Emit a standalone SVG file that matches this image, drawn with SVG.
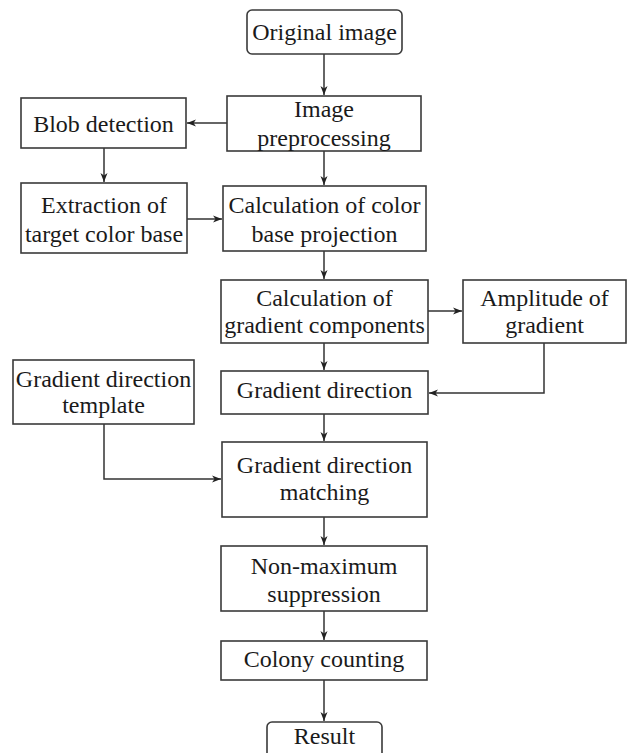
<svg xmlns="http://www.w3.org/2000/svg" width="627" height="753" viewBox="0 0 627 753">
<style>
.box{fill:#fff;stroke:#3a3a3a;stroke-width:1.6}
.t{font-family:"Liberation Serif","Times New Roman",serif;font-size:24px;fill:#1a1a1a;text-anchor:middle}
.c{fill:none;stroke:#333;stroke-width:1.5}
</style>
<defs>
<marker id="ah" markerWidth="10" markerHeight="8" refX="9" refY="4" orient="auto" markerUnits="userSpaceOnUse">
<path d="M0,0.5 L9,4 L0,7.5 L2.5,4 z" fill="#222"/>
</marker>
</defs>
<rect width="627" height="753" fill="#fff"/>
<g id="connectors">
<path class="c" d="M324,54 V95" marker-end="url(#ah)"/>
<path class="c" d="M227,123 H187" marker-end="url(#ah)"/>
<path class="c" d="M104,148 V182" marker-end="url(#ah)"/>
<path class="c" d="M324,151 V185" marker-end="url(#ah)"/>
<path class="c" d="M187,219 H222" marker-end="url(#ah)"/>
<path class="c" d="M324,251 V279" marker-end="url(#ah)"/>
<path class="c" d="M428,311 H462" marker-end="url(#ah)"/>
<path class="c" d="M324,343 V370" marker-end="url(#ah)"/>
<path class="c" d="M544,343 V393 H429" marker-end="url(#ah)"/>
<path class="c" d="M324,414 V441" marker-end="url(#ah)"/>
<path class="c" d="M104,424 V479 H221" marker-end="url(#ah)"/>
<path class="c" d="M324,517 V545" marker-end="url(#ah)"/>
<path class="c" d="M324,611 V640" marker-end="url(#ah)"/>
<path class="c" d="M324,680 V721" marker-end="url(#ah)"/>
</g>
<g id="original">
<rect class="box" x="247" y="10" width="155" height="44" rx="5"/>
<text class="t" x="324.5" y="40">Original image</text>
</g>
<g id="preprocessing">
<rect class="box" x="227" y="96" width="194" height="55"/>
<text class="t" x="324" y="117">Image</text>
<text class="t" x="324" y="146">preprocessing</text>
</g>
<g id="blob">
<rect class="box" x="21" y="98" width="165" height="50"/>
<text class="t" x="103.5" y="132">Blob detection</text>
</g>
<g id="extraction">
<rect class="box" x="21" y="183" width="166" height="70"/>
<text class="t" x="104" y="213">Extraction of</text>
<text class="t" x="104" y="242">target color base</text>
</g>
<g id="projection">
<rect class="box" x="223" y="186" width="203" height="65"/>
<text class="t" x="324.5" y="213">Calculation of color</text>
<text class="t" x="324.5" y="242">base projection</text>
</g>
<g id="components">
<rect class="box" x="221" y="280" width="207" height="63"/>
<text class="t" x="324.5" y="306">Calculation of</text>
<text class="t" x="324.5" y="333">gradient components</text>
</g>
<g id="amplitude">
<rect class="box" x="463" y="280" width="163" height="63"/>
<text class="t" x="544.5" y="306">Amplitude of</text>
<text class="t" x="544.5" y="333">gradient</text>
</g>
<g id="direction">
<rect class="box" x="221" y="371" width="207" height="43"/>
<text class="t" x="324.5" y="398">Gradient direction</text>
</g>
<g id="template">
<rect class="box" x="13" y="360" width="181" height="64"/>
<text class="t" x="103.5" y="387">Gradient direction</text>
<text class="t" x="103.5" y="413">template</text>
</g>
<g id="matching">
<rect class="box" x="222" y="442" width="205" height="75"/>
<text class="t" x="324.5" y="473">Gradient direction</text>
<text class="t" x="324.5" y="500">matching</text>
</g>
<g id="nms">
<rect class="box" x="221" y="546" width="206" height="65"/>
<text class="t" x="324" y="574">Non-maximum</text>
<text class="t" x="324" y="602">suppression</text>
</g>
<g id="counting">
<rect class="box" x="221" y="641" width="206" height="39"/>
<text class="t" x="324" y="667">Colony counting</text>
</g>
<g id="result">
<rect class="box" x="267" y="722" width="115" height="45" rx="5"/>
<text class="t" x="324.5" y="744">Result</text>
</g>
</svg>
